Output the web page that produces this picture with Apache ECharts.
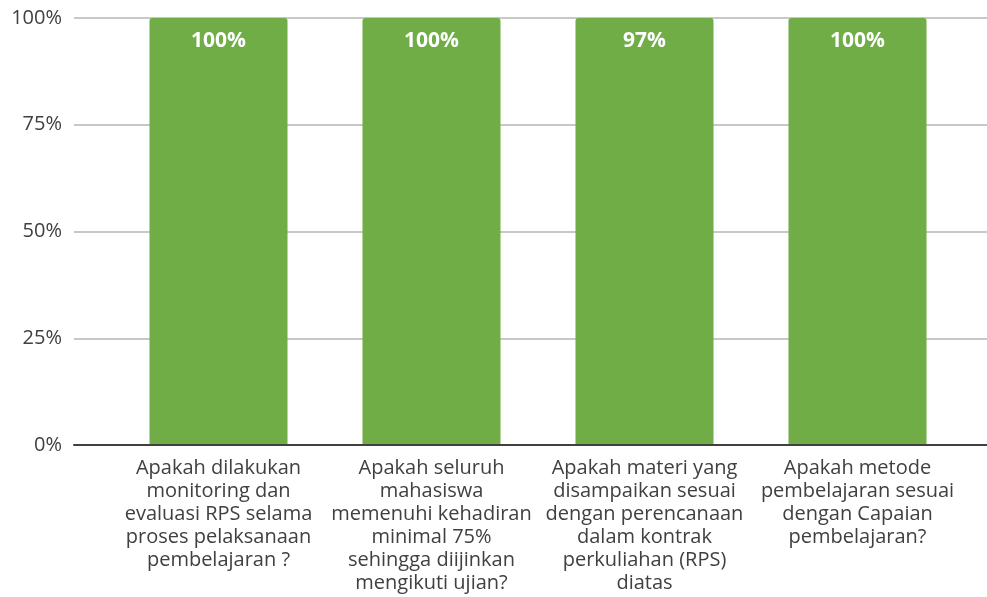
<!DOCTYPE html>
<html>
<head>
<meta charset="utf-8">
<script src="https://cdn.jsdelivr.net/npm/echarts@6/dist/echarts.min.js"></script>
<style>
html,body{margin:0;padding:0;background:#fff;}
#chart{width:987px;height:597px;}
</style>
</head>
<body>
<div id="chart"></div>
<script>
const categories = [
  "Apakah dilakukan\nmonitoring dan\nevaluasi RPS selama\nproses pelaksanaan\npembelajaran ?",
  "Apakah seluruh\nmahasiswa\nmemenuhi kehadiran\nminimal 75%\nsehingga diijinkan\nmengikuti ujian?",
  "Apakah materi yang\ndisampaikan sesuai\ndengan perencanaan\ndalam kontrak\nperkuliahan (RPS)\ndiatas",
  "Apakah metode\npembelajaran sesuai\ndengan Capaian\npembelajaran?"
];
// raw values shown as labels (single-series 100% stacked column)
const values = [100, 100, 97, 100];
const yTicks = [0, 25, 50, 75, 100];

// 100%-stacked: each bar's share of its stack total (single series => 100%)
const stackTotals = values.slice();
const barData = values.map((v, i) => ({value: v / stackTotals[i] * 100, raw: v}));

const chart = echarts.init(document.getElementById('chart'));
const font = '"Open Sans", "Noto Sans", sans-serif';
chart.setOption({
  animation: false,
  grid: [
    {left: 74, right: 0, top: 18, bottom: 152, containLabel: false},
    {left: 112, right: 23, top: 18, bottom: 152, containLabel: false}
  ],
  xAxis: [
    {
      gridIndex: 0, type: 'category', data: categories,
      axisTick: {show: false}, axisLabel: {show: false},
      axisLine: {lineStyle: {color: '#404040', width: 2}}, z: 5
    },
    {
      gridIndex: 1, type: 'category', data: categories,
      axisTick: {show: false},
      axisLine: {show: false},
      axisLabel: {
        interval: 0,
        color: '#404040',
        fontFamily: font,
        fontSize: 20,
        lineHeight: 23,
        margin: 12,
        align: 'center'
      }
    }
  ],
  yAxis: [
    {
      gridIndex: 0, type: 'value',
      min: yTicks[0], max: yTicks[yTicks.length - 1], interval: 25,
      axisLine: {show: false}, axisTick: {show: false},
      splitLine: {lineStyle: {color: '#c8c8c8', width: 2}},
      axisLabel: {
        color: '#404040', fontFamily: font, fontSize: 20, margin: 12,
        formatter: v => v + '%'
      }
    },
    {
      gridIndex: 1, type: 'value',
      min: yTicks[0], max: yTicks[yTicks.length - 1], interval: 25,
      show: false
    }
  ],
  series: [{
    type: 'bar',
    xAxisIndex: 1, yAxisIndex: 1,
    data: barData,
    barWidth: '64.8%',
    itemStyle: {color: '#70AD47', borderRadius: [3, 3, 0, 0]},
    z: 3,
    label: {
      show: true,
      position: 'insideTop',
      distance: 13,
      color: '#ffffff',
      fontFamily: font,
      fontWeight: 'bold',
      fontSize: 21,
      formatter: p => p.data.raw + '%'
    }
  }]
});
</script>
</body>
</html>
